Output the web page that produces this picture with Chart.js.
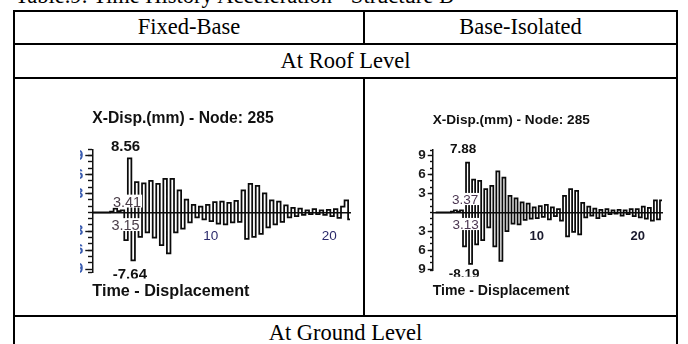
<!DOCTYPE html>
<html>
<head>
<meta charset="utf-8">
<script src="https://cdn.jsdelivr.net/npm/chart.js@4.4.1/dist/chart.umd.min.js"></script>
<style>
  html, body { margin: 0; padding: 0; background: #fff; }
  body { position: relative; width: 688px; height: 344px; overflow: hidden; }
  .ln { position: absolute; background: #000; }
  .tx { position: absolute; font-family: "Liberation Serif", "Times New Roman", serif; font-size: 22.5px;
        line-height: 1; color: #000; white-space: nowrap; }
  .c { text-align: center; }
  canvas { position: absolute; }
</style>
</head>
<body>
<!-- caption above the table -->
<div class="tx" style="left:15px; top:-15px;">Table.9: Time History Acceleration - Structure B</div>

<!-- table rules -->
<div class="ln" style="left:13px; top:10px; width:665px; height:2px;"></div>
<div class="ln" style="left:13px; top:10px; width:2px; height:340px;"></div>
<div class="ln" style="left:676px; top:10px; width:2px; height:340px;"></div>
<div class="ln" style="left:13px; top:43px; width:665px; height:2px;"></div>
<div class="ln" style="left:13px; top:77px; width:665px; height:2px;"></div>
<div class="ln" style="left:13px; top:315px; width:665px; height:2px;"></div>
<div class="ln" style="left:363px; top:10px; width:2px; height:34px;"></div>
<div class="ln" style="left:363px; top:78px; width:2px; height:238px;"></div>

<!-- table headings -->
<div class="tx c" style="left:14px; width:350px; top:16px;">Fixed-Base</div>
<div class="tx c" style="left:364px; width:313px; top:16px;">Base-Isolated</div>
<div class="tx c" style="left:14px; width:663px; top:50px;">At Roof Level</div>
<div class="tx c" style="left:14px; width:663px; top:322px;">At Ground Level</div>

<canvas id="fixedPlot" width="280" height="205" style="left:80px; top:100px;"></canvas>
<canvas id="isolatedPlot" width="270" height="205" style="left:405px; top:100px;"></canvas>

<script>
// Roof displacement history, node 285 (mm), sampled every 0.3 s
const times = [0,0.3,0.6,0.9,1.2,1.5,1.8,2.1,2.4,2.7,3,3.3,3.6,3.9,4.2,4.5,4.8,5.1,5.4,5.7,
  6,6.3,6.6,6.9,7.2,7.5,7.8,8.1,8.4,8.7,9,9.3,9.6,9.9,10.2,10.5,10.8,11.1,11.4,11.7,
  12,12.3,12.6,12.9,13.2,13.5,13.8,14.1,14.4,14.7,15,15.3,15.6,15.9,16.2,16.5,16.8,17.1,17.4,17.7,
  18,18.3,18.6,18.9,19.2,19.5,19.8,20.1,20.4,20.7,21,21.3,21.6,21.9,22.2,22.5,22.8];

const fixedBaseDisp = [
  0, 0, 0, 0, 0, 0.1, 0.6, 0.2, 0.3, -4.4,
  8.56, -7.64, 4.8, -3.9, 4.6, -3.2, 5.0, -4.0, 4.5, -5.2,
  5.3, -6.5, 5.3, -3.2, 3.5, -2.6, 2.0, -1.6, 1.2, -0.8,
  0.9, -1.1, 1.2, -1.4, 1.6, -1.8, 1.7, -1.9, 1.5, -1.6,
  1.8, -1.5, 3.5, -4.2, 4.5, -3.9, 4.2, -3.4, 3.0, -2.4,
  1.9, -1.9, 1.7, -1.5, 1.1, -0.8, 0.7, -0.6, 0.6, -0.4,
  0.3, -0.3, 0.5, -0.3, 0.3, -0.4, 0.4, -0.6, 0.5, -0.9,
  0.9, 1.9, -1.1, 1.2, -0.8, 0.6, -0.3];

const baseIsolatedDisp = [
  0, 0, 0, 0, 0, 0.1, 0.3, 0.1, 0.3, -5.4,
  7.88, -8.19, 5.2, -5.1, 5.0, -4.4, 3.7, -2.4, 4.2, -5.4,
  6.5, -7.7, 5.5, -3.0, 2.6, -1.8, 2.2, -1.9, 1.6, -1.2,
  1.4, -1.0, 0.8, -0.9, 1.0, -0.7, 1.2, -1.1, 0.8, -0.6,
  0.5, -1.3, 2.6, -3.8, 3.7, -3.1, 3.4, -3.5, 1.5, -0.8,
  0.9, -0.5, 0.6, -0.9, 0.4, -0.6, 0.5, -0.3, 0.3, -0.2,
  0.4, -0.5, 0.3, -0.3, 0.5, -0.6, 0.5, -0.8, 0.9, -1.0,
  0.7, -1.3, 1.9, -1.1, 1.9, -1.8, -2.0];

// readouts shown beside the zero line
const fixedReadouts = ['3.41', '3.15'];
const isolatedReadouts = ['3.37', '3.13'];

// axis ticks
const xTickValues = [10, 20];
const xTickLabels = ['10', '20'];
const yTickValues = [9, 6, 3, -3, -6, -9];
const yTickLabels = ['9', '6', '3', '3', '6', '9'];

const SANS = "'Liberation Sans', Arial, Helvetica, sans-serif";

// draws peak values and readouts as text tied to the scales
const plotLabels = {
  id: 'plotLabels',
  afterDatasetsDraw(chart, args, opts) {
    const ctx = chart.ctx;
    const xs = chart.scales.x, ys = chart.scales.y;
    (opts.items || []).forEach(it => {
      ctx.save();
      if (it.clipY != null) {
        ctx.beginPath();
        ctx.rect(0, 0, chart.width, it.clipY - chart.canvas.offsetTop);
        ctx.clip();
      }
      ctx.font = it.font;
      ctx.textAlign = 'center';
      ctx.textBaseline = 'alphabetic';
      const px = xs.getPixelForValue(it.t) + it.dx;
      const py = ys.getPixelForValue(it.v) + it.dy;
      if (it.bg) {
        const w = ctx.measureText(it.text).width;
        ctx.fillStyle = it.bg;
        ctx.fillRect(px - w / 2 - 1, py - it.h - 1, w + 2, it.h + 2);
      }
      ctx.fillStyle = it.color;
      ctx.fillText(it.text, px, py);
      ctx.restore();
    });
  }
};

function peakOf(values, pickMax) {
  let k = 0;
  values.forEach((v, i) => { if (pickMax ? v > values[k] : v < values[k]) k = i; });
  return { t: times[k], v: values[k] };
}

function buildPlot(id, values, readouts, c) {
  const hi = peakOf(values, true);
  const lo = peakOf(values, false);
  const points = times.map((t, i) => ({ x: t, y: values[i] }));
  const items = [
    { text: hi.v.toFixed(2), t: hi.t, v: hi.v, dx: c.hiDx, dy: c.hiDy, font: `bold ${c.peakSize}px ${SANS}`, color: '#111' },
    { text: lo.v.toFixed(2), t: lo.t, v: lo.v, dx: c.loDx, dy: c.loDy, font: `bold ${c.peakSize}px ${SANS}`, color: '#111', clipY: c.loClip },
    { text: readouts[0], t: hi.t, v: 0, dx: c.r1Dx, dy: c.r1Dy, font: `${c.readSize}px ${SANS}`, color: c.readColor, bg: '#fff', h: c.readSize * 0.75 },
    { text: readouts[1], t: hi.t, v: 0, dx: c.r2Dx, dy: c.r2Dy, font: `${c.readSize}px ${SANS}`, color: c.readColor, bg: '#fff', h: c.readSize * 0.75 }
  ];
  const tickGrid = (len) => ({ display: true, drawOnChartArea: false, drawTicks: true, tickLength: len, tickWidth: 1.4, tickColor: '#111' });
  return new Chart(document.getElementById(id), {
    type: 'line',
    data: { datasets: [{ data: points, borderColor: '#0a0a0a', borderWidth: 1.75, pointRadius: 0, stepped: true, fill: false }] },
    options: {
      responsive: false, animation: false, devicePixelRatio: 1,
      layout: { padding: { left: 0, right: c.padR, top: 0, bottom: 0 } },
      plugins: {
        legend: { display: false },
        tooltip: { enabled: false },
        title: { display: true, text: 'X-Disp.(mm) - Node: 285', align: 'start', fullSize: false, color: '#111',
                 font: { family: SANS, size: c.titleSize, weight: 'bold', lineHeight: 1 },
                 padding: { top: c.titleTop, bottom: c.titleBottom } },
        subtitle: { display: true, position: 'bottom', text: 'Time - Displacement', align: 'start', fullSize: false, color: '#111',
                    font: { family: SANS, size: c.capSize, weight: 'bold', lineHeight: 1 },
                    padding: { top: c.capTop, bottom: c.capBottom } },
        plotLabels: { items }
      },
      scales: {
        x: {
          type: 'linear', position: { y: 0 }, min: c.xMin, max: c.xMax,
          grid: { display: false, drawTicks: false },
          border: { display: true, color: '#111', width: 1.5 },
          afterBuildTicks: s => { s.ticks = xTickValues.map(v => ({ value: v })); },
          ticks: { autoSkip: false, maxRotation: 0, padding: c.xPad, color: c.xColor,
                   font: { family: SANS, size: c.xSize, weight: c.xWeight, lineHeight: 1 },
                   callback: v => xTickLabels[xTickValues.indexOf(v)] }
        },
        y: {
          type: 'linear', position: 'left', min: c.yMin, max: c.yMax,
          afterFit: s => { s.width = c.axisW; },
          grid: tickGrid(c.majorTick),
          border: { display: true, color: '#111', width: 1.5 },
          afterBuildTicks: s => { s.ticks = yTickValues.map(v => ({ value: v })); },
          ticks: { autoSkip: false, padding: c.yPad, color: c.yColor,
                   font: { family: SANS, size: c.ySize, weight: 'bold', lineHeight: 1 },
                   callback: v => yTickLabels[yTickValues.indexOf(v)] }
        },
        yMinor: {
          type: 'linear', axis: 'y', position: { x: c.xMin }, min: c.yMin, max: c.yMax,
          grid: tickGrid(c.minorTick),
          border: { display: false },
          ticks: { display: false, stepSize: 1 }
        }
      }
    },
    plugins: [plotLabels]
  });
}

buildPlot('fixedPlot', fixedBaseDisp, fixedReadouts, {
  axisW: 12.3, padR: 10, xMin: 0, xMax: 21.76, yMin: -9.5, yMax: 10,
  titleSize: 15.7, titleTop: 11.2, titleBottom: 22.4,
  capSize: 16.2, capTop: 11, capBottom: 5.6,
  xPad: 17.5, xColor: '#2b2a6b', xSize: 13.5, xWeight: 'normal',
  yPad: 2, yColor: '#3a5cb0', ySize: 15, majorTick: 7, minorTick: 4,
  peakSize: 15, hiDx: -2.3, hiDy: -7, loDx: -1.5, loDy: 18.3, loClip: 278.5,
  readSize: 14.5, readColor: '#4a3d48', r1Dx: -0.8, r1Dy: -5.8, r2Dx: -2.3, r2Dy: 17.7
});

buildPlot('isolatedPlot', baseIsolatedDisp, isolatedReadouts, {
  axisW: 27.7, padR: 13, xMin: -0.3, xMax: 22.4, yMin: -9.2, yMax: 9.9,
  titleSize: 13.6, titleTop: 13.2, titleBottom: 23.2,
  capSize: 14.1, capTop: 13.9, capBottom: 6.7,
  xPad: 17.5, xColor: '#1a1a2e', xSize: 13, xWeight: 'bold',
  yPad: 2, yColor: '#1a1a1a', ySize: 13.5, majorTick: 5, minorTick: 3,
  peakSize: 13.5, hiDx: -3, hiDy: -10, loDx: -5, loDy: 13.8, loClip: 276.7,
  readSize: 13.5, readColor: '#4a3550', r1Dx: -1, r1Dy: -8.3, r2Dx: -0.5, r2Dy: 16.7
});
</script>
</body>
</html>
